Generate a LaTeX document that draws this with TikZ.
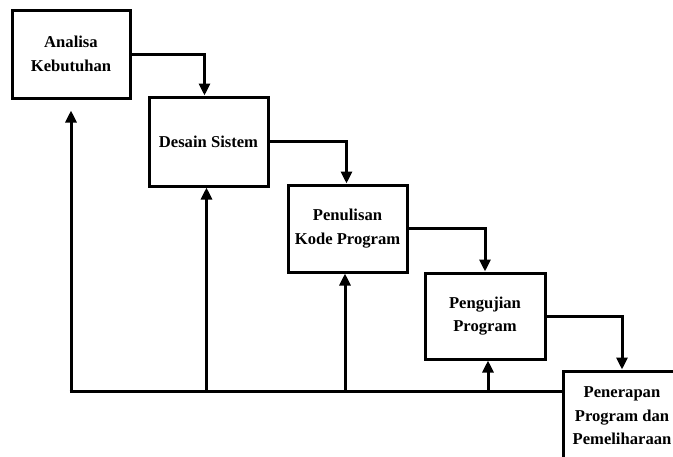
\documentclass[tikz,border=0pt]{standalone}
\usepackage{fontspec}
\setmainfont{Liberation Serif}
\usetikzlibrary{arrows.meta,calc}
\begin{document}
\begin{tikzpicture}[x=1pt,y=-1pt,
  stagebox/.style={draw=black,line width=3pt,fill=white,minimum width=118pt,minimum height=88pt,inner sep=0pt,align=center,font=\fontsize{16.6}{23.5}\selectfont\bfseries},
  conn/.style={line width=3pt},
  arr/.style={conn,-{Triangle[length=12pt,width=11pt]}}]
\useasboundingbox (0,0) rectangle (673,456);
\clip (0,0) rectangle (673,456);
\fill[white] (0,0) rectangle (673,456);
\node[stagebox] (a) at (71,54) {Analisa\\Kebutuhan};
\node[stagebox,minimum width=119pt,minimum height=89pt] (b) at (208.5,141.5) {Desain Sistem};
\node[stagebox,minimum width=119pt,minimum height=87pt] (c) at (347.5,228.5) {Penulisan\\Kode Program};
\node[stagebox,minimum width=120pt,minimum height=86pt] (d) at (485,316) {Pengujian\\Program};
\node[stagebox,minimum width=118pt,minimum height=90pt] (e) at (622,416) {Penerapan\\Program dan\\Pemeliharaan};
% forward flow
\draw[arr] (a.east) -| ([xshift=-4pt]b.north);
\draw[arr] (b.east) -| ([xshift=-1pt]c.north);
\draw[arr] (c.east) -| (d.north);
\draw[arr] (d.east) -| (e.north);
% feedback
\coordinate (fb) at (71,391);
\coordinate (bin) at ([xshift=-2pt]b.south);
\coordinate (cin) at ([xshift=-2.5pt]c.south);
\coordinate (din) at ([xshift=3pt]d.south);
\draw[conn] ([xshift=-1.5pt]fb) -- (fb -| e.west);
\draw[arr] (fb) -- ([yshift=-11pt]a.south);
\draw[arr] (fb -| bin) -- (bin);
\draw[arr] (fb -| cin) -- (cin);
\draw[arr] (fb -| din) -- (din);
\end{tikzpicture}
\end{document}
